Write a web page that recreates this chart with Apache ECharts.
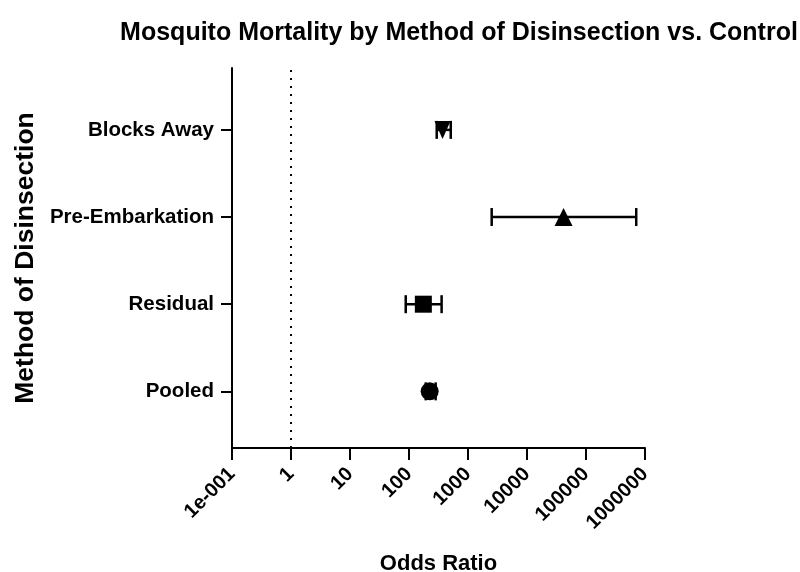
<!DOCTYPE html>
<html>
<head>
<meta charset="utf-8">
<script src="https://cdn.jsdelivr.net/npm/echarts@6/dist/echarts.min.js"></script>
<style>
  html, body { margin: 0; padding: 0; background: #fff; }
  #chart { width: 800px; height: 572px; }
</style>
</head>
<body>
<div id="chart"></div>
<script>
// categories bottom to top
const categories = ['Pooled', 'Residual', 'Pre-Embarkation', 'Blocks Away'];
const oddsRatio = [224, 175, 41700, 370];
const ciLow = [192, 88, 2520, 295];
const ciHigh = [283, 357, 710000, 510];
const markers = ['circle', 'rect', 'triangle', 'path://M0,0 L10,0 L5,10 Z'];
const xTickLabels = ['1e-001', '1', '10', '100', '1000', '10000', '100000', '1000000'];
const yTickValues = [1, 2, 3, 4];

const font = 'Liberation Sans, Arial, sans-serif';

let chart = echarts.init(document.getElementById('chart'));

// error bar rows: [low, high, y]
let errRows = categories.map((c, i) => [ciLow[i], ciHigh[i], i + 1]);
// point rows
let pointRows = categories.map((c, i) => ({
    value: [oddsRatio[i], i + 1],
    symbol: markers[i],
    symbolSize: i === 3 ? [16, 18] : (i === 1 ? 17 : 18)
}));

chart.setOption({
    animation: false,
    title: {
        text: 'Mosquito Mortality by Method of Disinsection vs. Control',
        left: 454,
        textAlign: 'center',
        top: 16,
        textStyle: { fontFamily: font, fontSize: 25, fontWeight: 'bold', color: '#000' }
    },
    grid: { left: 232, right: 155, top: 68, bottom: 124, outerBoundsMode: 'none', containLabel: false },
    xAxis: {
        type: 'log',
        logBase: 10,
        min: 0.1,
        max: 1000000,
        name: 'Odds Ratio',
        nameLocation: 'middle',
        nameGap: 105,
        nameTextStyle: { fontFamily: font, fontSize: 22, fontWeight: 'bold', color: '#000' },
        axisLine: { lineStyle: { color: '#000', width: 2 } },
        axisTick: { length: 12, lineStyle: { color: '#000', width: 2 } },
        splitLine: { show: false },
        axisLabel: {
            rotate: 45,
            margin: 23,
            fontFamily: font, fontSize: 20, fontWeight: 'bold', color: '#000',
            formatter: v => xTickLabels[Math.round(Math.log10(v)) + 1]
        }
    },
    yAxis: {
        type: 'value',
        min: 0.35,
        max: 4.71,
        name: 'Method of Disinsection',
        nameLocation: 'middle',
        nameGap: 190,
        nameTextStyle: { fontFamily: font, fontSize: 26.5, fontWeight: 'bold', color: '#000' },
        axisLine: { show: true, lineStyle: { color: '#000', width: 2 } },
        axisTick: { show: true, length: 11, customValues: yTickValues, lineStyle: { color: '#000', width: 2 } },
        splitLine: { show: false },
        axisLabel: {
            customValues: yTickValues,
            margin: 18,
            fontFamily: font, fontSize: 20.5, fontWeight: 'bold', color: '#000',
            formatter: v => categories[Math.round(v) - 1]
        }
    },
    series: [
        {
            type: 'custom',
            data: errRows,
            encode: { x: [0, 1], y: 2 },
            renderItem: (params, api) => {
                let a = api.coord([api.value(0), api.value(2)]);
                let b = api.coord([api.value(1), api.value(2)]);
                let h = 9;
                let st = { stroke: '#000', lineWidth: 2.5 };
                return {
                    type: 'group',
                    children: [
                        { type: 'line', shape: { x1: a[0], y1: a[1], x2: b[0], y2: b[1] }, style: st },
                        { type: 'line', shape: { x1: a[0], y1: a[1] - h, x2: a[0], y2: a[1] + h }, style: st },
                        { type: 'line', shape: { x1: b[0], y1: b[1] - h, x2: b[0], y2: b[1] + h }, style: st }
                    ]
                };
            },
            z: 2
        },
        {
            type: 'scatter',
            data: pointRows,
            itemStyle: { color: '#000', opacity: 1 },
            z: 3,
            markLine: {
                silent: true,
                symbol: 'none',
                label: { show: false },
                lineStyle: { color: '#000', width: 2, type: [2, 6] },
                data: [{ xAxis: 1 }]
            }
        }
    ]
});
</script>
</body>
</html>
